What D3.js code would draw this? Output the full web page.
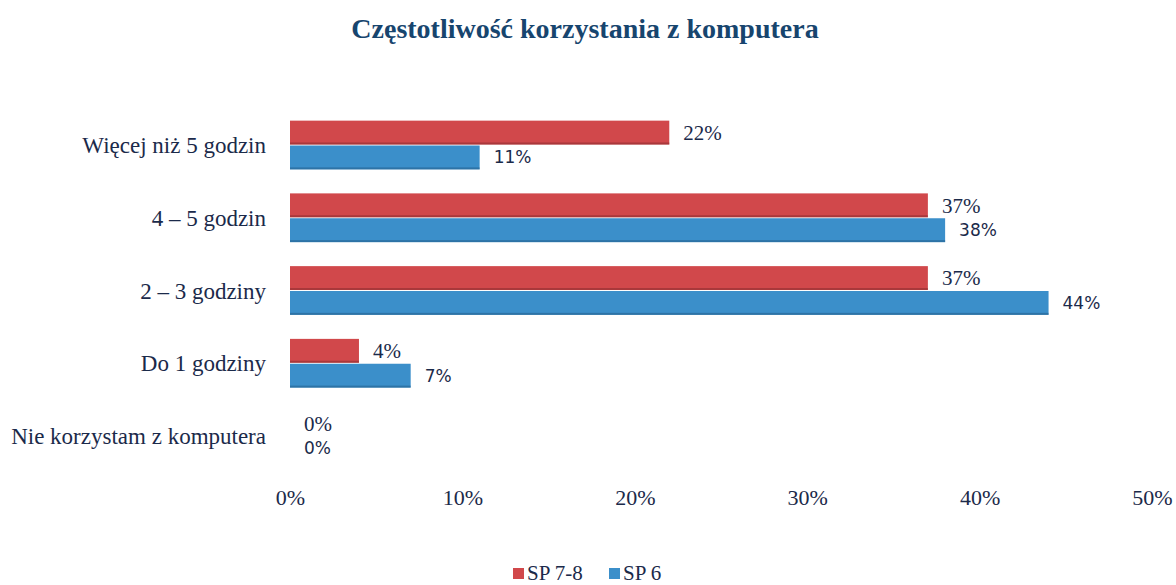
<!DOCTYPE html>
<html lang="pl">
<head>
    <meta charset="UTF-8">
    <title>Częstotliwość korzystania z komputera</title>
    <style>
        body,
        html {
            margin: 0;
            padding: 0;
            background: #fff;
        }
    </style>
    <script src="https://d3js.org/d3.v7.min.js"></script>
</head>
<body>
<div id="chart"></div>
<script>
    const categories = ["Więcej niż 5 godzin", "4 – 5 godzin", "2 – 3 godziny", "Do 1 godziny", "Nie korzystam z komputera"];
    const seriesNames = ["SP 7-8", "SP 6"];
    const sp78 = [22, 37, 37, 4, 0];
    const sp6 = [11, 38, 44, 7, 0];
    const ticks = [0, 10, 20, 30, 40, 50];

    (function () {
        const width = 1176, height = 585;
        const colors = ["#d1484b", "#3b8fca"];
        const edge = ["#8e2e30", "#24608e"];
        const textColor = "#1b2a4a";

        const svg = d3.select("#chart").append("svg")
            .attr("width", width).attr("height", height);

        const x = d3.scaleLinear().domain([0, 50]).range([290, 1152]);
        const y = d3.scaleBand().domain(categories).range([109, 472]).paddingInner(0.33).paddingOuter(0.16);
        const sub = d3.scaleBand().domain(seriesNames).range([0, y.bandwidth()]).paddingInner(0.04);

        svg.append("text")
            .attr("x", 585).attr("y", 38)
            .attr("text-anchor", "middle")
            .attr("font-family", "Liberation Serif, serif")
            .attr("font-weight", "bold")
            .attr("font-size", 28)
            .attr("fill", "#17456e")
            .text("Częstotliwość korzystania z komputera");

        // category labels
        svg.selectAll(".cat").data(categories).enter().append("text")
            .attr("class", "cat")
            .attr("x", 266)
            .attr("y", d => y(d) + y.bandwidth() / 2)
            .attr("dy", "0.35em")
            .attr("text-anchor", "end")
            .attr("font-family", "Liberation Serif, serif")
            .attr("font-size", 23)
            .attr("fill", textColor)
            .text(d => d);

        const series = [sp78, sp6];
        series.forEach((vals, s) => {
            const g = svg.append("g");
            const rows = vals.map((v, i) => ({cat: categories[i], v: v}));
            g.selectAll("rect.bar").data(rows.filter(d => d.v > 0)).enter().append("rect")
                .attr("class", "bar")
                .attr("x", x(0))
                .attr("y", d => y(d.cat) + sub(seriesNames[s]))
                .attr("width", d => x(d.v) - x(0))
                .attr("height", sub.bandwidth())
                .attr("fill", colors[s]);
            g.selectAll("rect.edge").data(rows.filter(d => d.v > 0)).enter().append("rect")
                .attr("class", "edge")
                .attr("x", x(0))
                .attr("y", d => y(d.cat) + sub(seriesNames[s]) + sub.bandwidth() - 2)
                .attr("width", d => x(d.v) - x(0))
                .attr("height", 2)
                .attr("fill", edge[s])
                .attr("opacity", 0.6);
            g.selectAll("text").data(rows).enter().append("text")
                .attr("x", d => x(d.v) + 14)
                .attr("y", d => y(d.cat) + sub(seriesNames[s]) + sub.bandwidth() / 2)
                .attr("dy", "0.35em")
                .attr("font-family", s === 0 ? "Liberation Serif, serif" : "DejaVu Sans, sans-serif")
                .attr("font-size", s === 0 ? 21 : 17)
                .attr("fill", textColor)
                .text(d => d.v + "%");
        });

        // x axis, no line
        const axis = svg.append("g")
            .attr("transform", "translate(0,497)")
            .call(d3.axisBottom(x).tickValues(ticks).tickFormat(d => d + "%").tickSize(0));
        axis.select(".domain").remove();
        axis.selectAll("text")
            .attr("font-family", "Liberation Serif, serif")
            .attr("font-size", 22)
            .attr("fill", textColor)
            .attr("dy", "0.35em")
            .attr("y", 0);

        // legend
        const legend = svg.append("g").attr("transform", "translate(513,573)");
        const offs = [0, 96];
        seriesNames.forEach((n, i) => {
            legend.append("rect")
                .attr("x", offs[i]).attr("y", -5)
                .attr("width", 11).attr("height", 11)
                .attr("fill", colors[i]);
            legend.append("text")
                .attr("x", offs[i] + 14).attr("y", 0)
                .attr("dy", "0.35em")
                .attr("font-family", "Liberation Serif, serif")
                .attr("font-size", 21)
                .attr("fill", textColor)
                .text(n);
        });
    }());
</script>
</body>
</html>
